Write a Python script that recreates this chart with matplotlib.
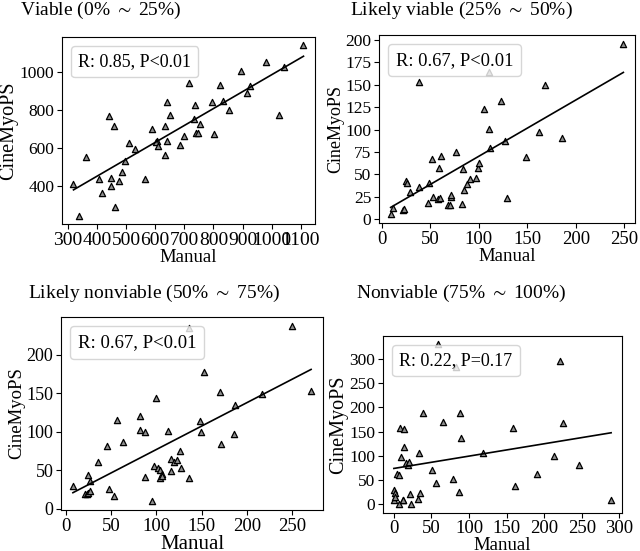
import numpy as np
import matplotlib.pyplot as plt
from matplotlib.lines import Line2D

plt.rcParams['font.family'] = ['Liberation Serif', 'DejaVu Serif']
plt.rcParams['mathtext.fontset'] = 'stix'

titles = ['Viable (0% $\\sim$ 25%)', 'Likely viable (25% $\\sim$ 50%)',
          'Likely nonviable (50% $\\sim$ 75%)', 'Nonviable (75% $\\sim$ 100%)']
stats = ['R: 0.85, P<0.01', 'R: 0.67, P<0.01', 'R: 0.67, P<0.01', 'R: 0.22, P=0.17']

# viable (0-25%)
viable_manual = [320, 339, 362, 408, 418, 442, 447, 448, 459, 463, 477, 487, 497, 510,
                 531, 566, 589, 607, 603, 611, 633, 635, 640, 642, 652, 686, 698, 715,
                 732, 738, 740, 746, 755, 795, 803, 822, 833, 854, 895, 914, 925, 979,
                 1024, 1041, 1109]
viable_cine = [414, 248, 556, 440, 365, 770, 444, 403, 713, 295, 430, 473, 535, 626,
               597, 441, 699, 638, 630, 612, 713, 565, 840, 638, 772, 614, 664, 939,
               753, 825, 678, 678, 728, 843, 673, 929, 845, 798, 1002, 887, 925, 1052,
               774, 1025, 1136]

# likely viable (25-50%)
lviable_manual = [9.3, 11.4, 21.8, 23.2, 24.9, 26, 29, 38, 38, 48, 49, 51.6, 52.6, 57.8,
                  59.2, 60.6, 61.6, 68.2, 70, 71, 71.7, 76.5, 82.8, 83.8, 84.8, 88.3,
                  90.7, 97.6, 99.4, 100, 105, 110.8, 110.8, 111.5, 123.3, 127, 129.5,
                  148.5, 161.7, 168, 186, 249]
lviable_cine = [5.2, 12.5, 10.7, 11.8, 42, 40, 30, 153.5, 35.4, 18.5, 40.6, 67, 24.7, 22.9,
                56.8, 23.6, 70, 16.2, 16.2, 24.7, 26.6, 74.5, 16.6, 56, 32.8, 38.7,
                44.3, 45.8, 56.8, 62.7, 122.5, 163.8, 101, 79, 131.4, 87, 23.6,
                69.7, 97.8, 150.2, 90.4, 196]

# likely nonviable (50-75%)
lnonviable_manual = [7.5, 21.3, 23.1, 24.3, 23.9, 26.1, 26.1, 35.8, 44.8, 47.4, 53, 56,
                     62.7, 81.3, 82.1, 87.3, 87.3, 94.8, 97.8, 100, 101.5, 103.7, 103.7,
                     106, 106.7, 112.7, 115.7, 115.7, 119.4, 123.1, 126.5, 127.6, 136.2,
                     136.2, 148.1, 148.9, 153, 170.9, 171.6, 185.8, 186.6, 217.2, 250,
                     271.3]
lnonviable_cine = [29.4, 19.9, 19.9, 20.7, 44.5, 35.9, 22.9, 60.9, 81.2, 26.3, 16.4, 114.9,
                   87.3, 120.1, 101.9, 99.4, 41, 9.9, 55.3, 143.8, 53.1, 50.1, 40.2,
                   45.8, 42.3, 100.6, 64.8, 48.8, 60.5, 63.1, 75.6, 53.1, 234.6,
                   40.2, 114.5, 99.4, 177.5, 151.2, 84.7, 97.6, 135.2, 149.5, 237.6,
                   153.3]

# nonviable (75-100%)
nonviable_manual = [0.4, 0.9, 0, 1.8, 4, 6.2, 6.6, 7.5, 9.7, 11.5, 12.4, 13.3, 13.3, 16.8,
                    18.6, 19.9, 21.3, 23, 31.5, 33.7, 34.6, 38.5, 50.5, 55.8, 58.5, 64.7,
                    78.9, 82, 86.4, 88.6, 89.5, 118.3, 158.2, 161.3, 190.5, 212.7, 221.5,
                    224.6, 245.9, 288.9]
nonviable_cine = [29.3, 23.9, 10.2, 15.7, 63.4, 61.3, 0, 158, 97.5, 10.2, 8.2, 154.7, 119.3,
                  85.2, 81.8, 87.3, 22.5, 0, 12.3, 105.7, 23.9, 189.5, 71.6, 44.3, 330.6,
                  169, 53.2, 282.9, 25.2, 187.5, 137.7, 107, 156.8, 38.9, 62.7, 100.9,
                  295.2, 168.4, 81.8, 8.9]

manual = [viable_manual, lviable_manual, lnonviable_manual, nonviable_manual]
cine = [viable_cine, lviable_cine, lnonviable_cine, nonviable_cine]
xticks = [range(300, 1101, 100), range(0, 251, 50), range(0, 251, 50), range(0, 301, 50)]
yticks = [range(400, 1001, 200), range(0, 201, 25), range(0, 201, 50), range(0, 301, 50)]

W, H = 640, 551
boxes = [(62, 37, 315, 224), (379, 35, 635, 223), (61, 317, 323, 510), (383, 336, 622, 512.5)]
title_pos = [(101, 15), (461, 15), (154, 298), (461, 298)]
# per-panel font sizes: xtick, ytick, xlabel, ylabel, legend
sizes = [(14, 12.5, 13.5, 14.5, 13), (13.5, 12.5, 13.5, 13, 13.3),
         (13.5, 13, 15, 13.5, 13.5), (13.5, 12.5, 13.5, 14.5, 13)]

fig = plt.figure(figsize=(6.4, 5.51), dpi=100)

for i in range(4):
    l, t, r, b = boxes[i]
    xt, yt, xl, yl, lg = sizes[i]
    ax = fig.add_axes([l / W, 1 - b / H, (r - l) / W, (b - t) / H])
    x = np.array(manual[i])
    y = np.array(cine[i])
    ax.scatter(x, y, marker='^', s=20, facecolor='0.55', edgecolor='k', linewidths=0.9, zorder=2)
    coef = np.polyfit(x, y, 1)
    xs = np.array([x.min(), x.max()])
    ax.plot(xs, np.polyval(coef, xs), color='k', lw=1.2, zorder=3)
    ax.set_xticks(list(xticks[i]))
    ax.set_yticks(list(yticks[i]))
    ax.tick_params(axis='x', labelsize=xt, pad=2)
    ax.tick_params(axis='y', labelsize=yt, pad=2)
    ax.set_xlabel('Manual', fontsize=xl, labelpad=0)
    ax.set_ylabel('CineMyoPS', fontsize=yl, labelpad=1)
    ax.legend(handles=[Line2D([], [], linestyle='none')], labels=[stats[i]],
              loc='upper left', handlelength=0, handletextpad=0, fontsize=lg)
    tx, ty = title_pos[i]
    fig.text(tx / W, 1 - ty / H, titles[i], ha='center', va='baseline', fontsize=14)

fig.savefig('out.png', dpi=100)
